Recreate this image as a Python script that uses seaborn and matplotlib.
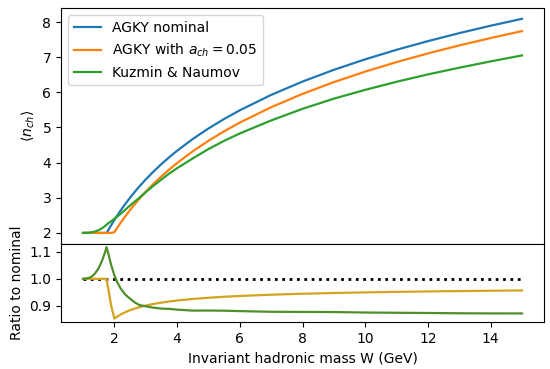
import numpy as np
import pandas as pd
import matplotlib
matplotlib.use("Agg")
import matplotlib.pyplot as plt
import seaborn as sns

# Invariant hadronic mass W (GeV)
w = [1.0, 1.1, 1.2, 1.3, 1.4, 1.5, 1.6, 1.7, 1.75, 1.8, 1.9, 2.0, 2.1, 2.2,
     2.35, 2.5, 2.67, 2.8, 3.0, 3.25, 3.5, 3.75, 4.0, 4.5, 5.0, 5.5, 6.0,
     7.0, 8.0, 9.0, 10.0, 11.0, 12.0, 13.0, 14.0, 15.0]

# mean charged multiplicity
agky_nominal = [2.0, 2.0, 2.0, 2.0, 2.0, 2.0, 2.0, 2.0, 2.0, 2.069, 2.223,
                2.369, 2.507, 2.639, 2.826, 3.002, 3.189, 3.324, 3.520, 3.747,
                3.958, 4.154, 4.337, 4.672, 4.971, 5.241, 5.489, 5.926, 6.306,
                6.640, 6.939, 7.210, 7.457, 7.684, 7.895, 8.091]
agky_ach = [2.0, 2.0, 2.0, 2.0, 2.0, 2.0, 2.0, 2.0, 2.0, 2.0, 2.0,
            2.019, 2.157, 2.289, 2.476, 2.652, 2.839, 2.974, 3.170, 3.397,
            3.608, 3.804, 3.987, 4.322, 4.621, 4.891, 5.139, 5.576, 5.956,
            6.290, 6.589, 6.860, 7.107, 7.334, 7.545, 7.741]
kuzmin_naumov = [2.0, 2.002, 2.008, 2.02, 2.045, 2.08, 2.13, 2.195, 2.235, 2.27, 2.335,
                 2.40, 2.47, 2.545, 2.66, 2.78, 2.905, 3.00, 3.16, 3.345,
                 3.52, 3.69, 3.84, 4.12, 4.385, 4.62, 4.83, 5.20, 5.53,
                 5.82, 6.07, 6.30, 6.51, 6.70, 6.88, 7.05]

labels = ["AGKY nominal", r"AGKY with $a_{ch} = 0.05$", "Kuzmin & Naumov"]
colors = ["#1f77b4", "#ff7f0e", "#2ca02c"]
ratio_colors = ["#d4a21c", "#4f8f2a"]

n = len(w)
df = pd.DataFrame({"W": w * 3,
                   "n": agky_nominal + agky_ach + kuzmin_naumov,
                   "model": [labels[0]] * n + [labels[1]] * n + [labels[2]] * n})

# ratios to the nominal AGKY curve
nom = np.array(agky_nominal)
ratio = pd.DataFrame({"W": w * 2,
                      "r": list(np.array(agky_ach) / nom) + list(np.array(kuzmin_naumov) / nom),
                      "model": ["ach"] * n + ["kn"] * n})

fig, (ax1, ax2) = plt.subplots(2, 1, sharex=True, figsize=(5.5, 3.69), dpi=100,
                               gridspec_kw={"height_ratios": [3, 1], "hspace": 0})
fig.subplots_adjust(left=0.111, right=0.989, top=0.978, bottom=0.127)

sns.lineplot(data=df, x="W", y="n", hue="model", palette=colors, ax=ax1, linewidth=1.6)
ax1.legend(loc="upper left", fontsize=10)
ax1.set_ylabel(r"$\langle n_{ch} \rangle$")
ax1.set_xlabel("")
ax1.set_yticks([2, 3, 4, 5, 6, 7, 8])

ax2.plot(w, nom / nom, "k:", linewidth=2)
sns.lineplot(data=ratio, x="W", y="r", hue="model",
             palette=ratio_colors, ax=ax2, linewidth=1.6, legend=False)
ax2.set_ylabel("Ratio to nominal")
ax2.set_xlabel("Invariant hadronic mass W (GeV)")
ax2.set_yticks([0.9, 1.0, 1.1])
ax2.set_xticks([2, 4, 6, 8, 10, 12, 14])

fig.savefig("out.png")
